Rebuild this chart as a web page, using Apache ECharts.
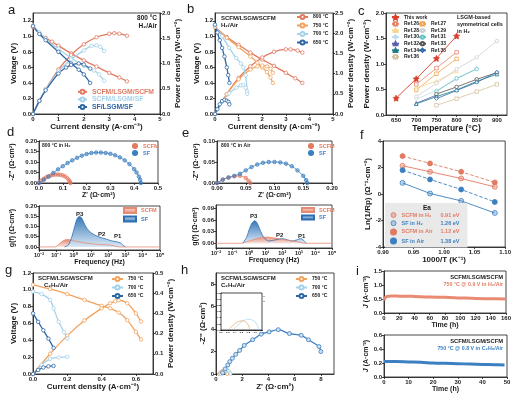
<!DOCTYPE html>
<html>
<head>
<meta charset="utf-8">
<script src="https://cdn.jsdelivr.net/npm/echarts@6/dist/echarts.min.js"></script>
<style>
html, body { margin: 0; padding: 0; background: #fff; }
#chart { width: 514px; height: 398px; }
</style>
</head>
<body>
<div id="chart"></div>
<script>
// ---------- data ----------
// a: 800 °C, H2/Air, [current, value]
const aVoltSCFM = [[0,1.12],[0.25,1.04],[0.5,0.98],[0.75,0.93],[1.0,0.88],[1.5,0.78],[2.0,0.69],[2.5,0.61],[3.0,0.53],[3.4,0.47],[3.7,0.42]];
const aPowSCFM = [[0,0],[0.25,0.26],[0.5,0.49],[1.0,0.88],[1.5,1.17],[2.0,1.38],[2.5,1.52],[3.0,1.59],[3.2,1.6],[3.4,1.59],[3.7,1.55]];
const aVoltMix = [[0,1.14],[0.25,1.05],[0.5,0.97],[1.0,0.84],[1.5,0.72],[2.0,0.62],[2.4,0.56],[2.6,0.51],[2.8,0.43]];
const aPowMix = [[0,0],[0.25,0.26],[0.5,0.49],[1.0,0.84],[1.5,1.08],[2.0,1.26],[2.3,1.35],[2.5,1.36],[2.65,1.33],[2.8,1.25]];
const aVoltSF = [[0,1.13],[0.25,1.03],[0.5,0.95],[1.0,0.80],[1.5,0.65],[1.8,0.57],[2.0,0.51],[2.25,0.40]];
const aPowSF = [[0,0],[0.25,0.26],[0.5,0.47],[1.0,0.8],[1.3,0.92],[1.5,0.97],[1.8,1.0],[2.0,0.98],[2.25,0.9]];

// b: SCFM/LSGM/SCFM in H2 at four temperatures
const bVolt800 = [[0,1.12],[0.5,0.99],[1.0,0.89],[1.5,0.79],[2.0,0.7],[2.5,0.62],[3.0,0.53],[3.4,0.46],[3.7,0.40]];
const bPow800 = [[0,0],[0.5,0.49],[1.0,0.89],[1.5,1.18],[2.0,1.4],[2.5,1.54],[3.0,1.6],[3.2,1.6],[3.5,1.57],[3.7,1.52]];
const bVolt750 = [[0,1.12],[0.5,0.98],[1.0,0.86],[1.5,0.74],[1.8,0.66],[2.0,0.6],[2.2,0.54],[2.35,0.47],[2.45,0.40]];
const bPow750 = [[0,0],[0.5,0.49],[1.0,0.86],[1.5,1.1],[1.8,1.18],[2.0,1.2],[2.2,1.18],[2.35,1.12],[2.45,1.02]];
const bVolt700 = [[0,1.14],[0.3,1.0],[0.6,0.85],[0.9,0.72],[1.1,0.65],[1.2,0.6],[1.3,0.5],[1.36,0.29]];
const bPow700 = [[0,0],[0.3,0.3],[0.6,0.51],[0.9,0.65],[1.1,0.71],[1.2,0.72],[1.3,0.65],[1.36,0.5]];
const bVolt650 = [[0,1.15],[0.1,1.05],[0.2,0.95],[0.3,0.85],[0.4,0.74],[0.5,0.6],[0.56,0.5],[0.61,0.4]];
const bPow650 = [[0,0],[0.1,0.12],[0.2,0.24],[0.3,0.32],[0.4,0.35],[0.5,0.33],[0.57,0.3],[0.61,0.24]];

// c: peak power vs temperature, [°C, W/cm2]
const cThis = [[650,0.33],[700,0.71],[750,1.11],[800,1.55]];
const cRef26 = [[700,0.60],[750,0.92],[800,1.23]];
const cRef27 = [[700,0.49],[750,0.81],[800,1.10]];
const cRef28 = [[700,0.53],[750,0.66],[800,0.86]];
const cRef29 = [[700,0.36],[750,0.62],[800,0.90],[850,1.13],[900,1.45]];
const cRef30 = [[700,0.31],[750,0.48],[800,0.70],[850,0.92]];
const cRef31 = [[750,0.46],[800,0.72],[850,0.90]];
const cRef32 = [[700,0.23],[750,0.39]];
const cRef33 = [[750,0.41],[800,0.55],[850,0.70],[900,0.83]];
const cRef34 = [[700,0.22],[750,0.36],[800,0.49],[850,0.66],[900,0.80]];
const cRef35 = [[750,0.32],[800,0.48],[850,0.64],[900,0.84]];
const cRef36 = [[750,0.19],[800,0.32],[850,0.46],[900,0.60]];

// d: 800 °C in H2, Nyquist [Z', -Z''] and DRT [Hz, g(f)]
const dNyqSCFM = [[0,0],[0.01,0.012],[0.02,0.02],[0.03,0.027],[0.04,0.032],[0.05,0.036],[0.06,0.039],[0.07,0.04],[0.08,0.04],[0.09,0.039],[0.1,0.036],[0.11,0.031],[0.12,0.022],[0.127,0.012],[0.13,0.004],[0.132,0]];
const dNyqSF = [[0,0],[0.02,0.015],[0.04,0.03],[0.06,0.048],[0.08,0.065],[0.1,0.08],[0.12,0.095],[0.14,0.108],[0.16,0.12],[0.18,0.13],[0.2,0.138],[0.22,0.143],[0.24,0.145],[0.26,0.145],[0.28,0.143],[0.3,0.139],[0.32,0.132],[0.34,0.122],[0.36,0.108],[0.38,0.09],[0.4,0.066],[0.41,0.05],[0.42,0.03],[0.425,0.015],[0.428,0]];
const dDrtSCFM = [[0.01,0],[0.08,0],[0.15,0.015],[0.25,0.03],[0.4,0.036],[0.7,0.034],[1,0.03],[3,0.022],[10,0.016],[30,0.012],[100,0.01],[200,0.006],[400,0],[100000,0]];
const dDrtSF = [[0.3,0],[0.5,0.01],[0.8,0.05],[1.2,0.105],[1.6,0.138],[2.2,0.15],[3,0.14],[4,0.117],[6,0.09],[10,0.07],[20,0.055],[40,0.045],[80,0.038],[150,0.03],[300,0.025],[500,0.02],[700,0.01],[1000,0]];

// e: 800 °C in air
const eNyqSCFM = [[0,0],[0.01,0.008],[0.02,0.013],[0.03,0.016],[0.04,0.017],[0.05,0.012],[0.055,0.005],[0.058,0]];
const eNyqSF = [[0,0],[0.01,0.008],[0.02,0.013],[0.03,0.017],[0.04,0.022],[0.05,0.03],[0.06,0.038],[0.07,0.044],[0.08,0.048],[0.09,0.05],[0.1,0.05],[0.11,0.049],[0.12,0.046],[0.13,0.04],[0.14,0.03],[0.15,0.017],[0.155,0.007],[0.157,0]];
const eDrtSCFM = [[0.01,0],[0.3,0],[1,0.006],[3,0.012],[10,0.016],[30,0.014],[100,0.01],[300,0.007],[800,0.004],[1600,0.001],[2000,0],[100000,0]];
const eDrtSF = [[0.4,0],[0.7,0.015],[1.0,0.035],[1.5,0.052],[2.2,0.058],[3.2,0.05],[5,0.03],[8,0.014],[15,0.006],[40,0.009],[100,0.012],[200,0.009],[400,0.006],[800,0.009],[1300,0.012],[2000,0.007],[2800,0]];

// f: Arrhenius plot, [1000/T, ln(1/Rp)]
const fSCFMH2 = [[0.932,2.13],[0.977,1.68],[1.028,1.17],[1.083,0.54]];
const fSFH2 = [[0.932,0.84],[0.977,0.04],[1.028,-0.52],[1.083,-1.43]];
const fSCFMAir = [[0.932,2.86],[0.977,2.31],[1.028,1.68],[1.083,0.87]];
const fSFAir = [[0.932,1.80],[0.977,1.10],[1.028,0.34],[1.083,-0.6]];
const fNames = ['SCFM in H₂', 'SF in H₂', 'SCFM in Air', 'SF in Air'];
const fEa = ['0.91 eV', '1.26 eV', '1.12 eV', '1.38 eV'];

// g: C2H6/Air I-V-P
const gVolt750 = [[0,1.06],[0.1,1.01],[0.2,0.95],[0.3,0.88],[0.4,0.81],[0.45,0.78],[0.5,0.73],[0.55,0.64],[0.6,0.50],[0.63,0.41]];
const gPow750 = [[0,0],[0.1,0.10],[0.2,0.19],[0.3,0.265],[0.4,0.325],[0.45,0.35],[0.48,0.36],[0.5,0.365],[0.55,0.35],[0.6,0.30],[0.63,0.26]];
const gVolt700 = [[0,0.98],[0.05,0.95],[0.1,0.88],[0.12,0.78],[0.15,0.62],[0.18,0.5],[0.2,0.42]];
const gPow700 = [[0,0],[0.05,0.045],[0.1,0.075],[0.15,0.082],[0.2,0.085]];
const gVolt650 = [[0,0.72],[0.03,0.62],[0.06,0.52],[0.09,0.42],[0.12,0.31]];
const gPow650 = [[0,0],[0.03,0.02],[0.06,0.032],[0.09,0.038],[0.12,0.04]];

// h: C2H6/Air Nyquist
const h750 = [[0.22,0],[0.3,0.1],[0.4,0.2],[0.5,0.27],[0.6,0.3],[0.7,0.28],[0.78,0.2],[0.83,0.08],[0.85,0]];
const h700 = [[0.35,0],[0.45,0.12],[0.55,0.22],[0.65,0.3],[0.78,0.35],[0.9,0.33],[1.0,0.26],[1.07,0.14],[1.1,0]];
const h650 = [[0.5,0.1],[0.7,0.45],[0.9,0.8],[1.05,1.1],[1.25,1.4],[1.5,1.75],[1.8,2.1],[2.15,2.55],[2.8,3.05],[3.45,3.55],[4.05,3.75],[4.75,3.95],[5.6,3.6],[6.5,3.45],[7.05,3.05],[7.85,2.45],[8.0,2.0]];

// i: stability, [h, A/cm2]
const iH2 = [[0,0.45],[1,0.52],[3,0.58],[6,0.6],[10,0.61],[15,0.61],[20,0.6],[30,0.6],[40,0.59],[60,0.57],[80,0.56],[100,0.54],[120,0.52],[140,0.51],[160,0.5]];
const iC2H6 = [[0,0.22],[5,0.22],[10,0.215],[15,0.21],[20,0.2],[25,0.195],[30,0.19],[35,0.185],[40,0.18],[45,0.175],[49,0.17]];

// ---------- styles ----------
const FONT = '"Liberation Sans", Arial, sans-serif';
const INK = '#1a1a1a';
const RED = '#e27a62', LBLUE = '#a6d2ea', DBLUE = '#2e67a4', ORANGE = '#f2a35e', BLUE = '#3c7fc0';
const sup = { '-': '⁻', '0': '⁰', '1': '¹', '2': '²', '3': '³', '4': '⁴', '5': '⁵' };
const logFmt = v => '10' + String(Math.round(Math.log10(v))).split('').map(c => sup[c]).join('');

function ax(g, min, max, o) {
  o = o || {};
  const a = {
    type: o.log ? 'log' : 'value', gridIndex: g, min: min, max: max,
    position: o.pos, name: o.name || '', nameLocation: 'middle', nameGap: o.gap || 10,
    axisLine: { show: true, onZero: false, lineStyle: { color: INK, width: 0.8 } },
    axisTick: { show: true, length: o.tl || 2, lineStyle: { color: INK, width: 0.8 } },
    axisLabel: { fontSize: o.fs || 6, fontWeight: 'bold', color: INK, fontFamily: FONT, margin: o.margin || 2,
      formatter: o.fmt || (v => v.toFixed(o.dec || 0)) },
    splitLine: { show: false },
    nameTextStyle: { fontSize: o.nfs || 8, fontWeight: 'bold', color: INK, fontFamily: FONT,
      rich: { it: { fontStyle: 'italic', fontSize: o.nfs || 8, fontWeight: 'bold', fontFamily: FONT } } }
  };
  if (o.rot) a.nameRotate = o.rot;
  if (o.ticks) { a.axisLabel.customValues = o.ticks; a.axisTick.customValues = o.ticks; }
  if (o.step) a.interval = o.step;
  if (o.log) a.logBase = 10;
  return a;
}

function ln(name, data, xi, yi, color, o) {
  o = o || {};
  return {
    type: 'line', name: name, data: data, xAxisIndex: xi, yAxisIndex: yi,
    smooth: o.smooth === undefined ? 0.3 : o.smooth,
    symbol: o.symbol || 'circle', symbolSize: o.size || 3.5, showSymbol: o.noSym ? false : true,
    lineStyle: { color: color, width: o.lw || 1.3, type: o.dash ? 'dashed' : 'solid' },
    itemStyle: { color: o.fill || '#fff', borderColor: color, borderWidth: 0.8 },
    areaStyle: o.area, z: o.z || 2
  };
}

function grad(top, bottom) {
  return new echarts.graphic.LinearGradient(0, 0, 0, 1, [{ offset: 0, color: top }, { offset: 1, color: bottom }]);
}

function txt(x, y, s, fs, o) {
  o = o || {};
  const t = { type: 'text', top: y, z: 50,
    style: { text: s, fontSize: fs, fontWeight: o.fw || 'bold', fill: o.c || INK, fontFamily: FONT } };
  if (o.right) t.right = x; else t.left = x;
  return t;
}

const legendText = (fs, extra) => Object.assign({ fontSize: fs, fontWeight: 'bold', color: INK, fontFamily: FONT }, extra || {});

// ---------- layout ----------
const grids = [
  [33, 13, 127, 101],   // a
  [215, 13, 118, 101],  // b
  [386, 13, 121, 102],  // c
  [39, 141, 119, 42],   // d top
  [39, 206, 121, 44],   // d bottom
  [217, 141, 115, 42],  // e top
  [216, 205, 116, 43],  // e bottom
  [383, 141, 124, 106], // f
  [33, 273, 120, 101],  // g
  [216, 273, 118, 101], // h
  [221, 293, 41, 37],   // h inset
  [384, 271, 123, 42],  // i top
  [384, 335, 123, 42]   // i bottom
].map((r, k) => ({ left: r[0], top: r[1], width: r[2], height: r[3], show: true,
  borderColor: INK, borderWidth: 0.8, backgroundColor: k === 10 ? '#fff' : 'transparent', z: k === 10 ? 10 : 0 }));

const xAxes = [
  ax(0, 0, 5, { step: 1, name: 'Current density (A·cm⁻²)', gap: 9 }),
  ax(1, 0, 5, { step: 1, name: 'Current density (A·cm⁻²)', gap: 9 }),
  ax(2, 625, 925, { ticks: [650, 700, 750, 800, 850, 900], name: 'Temperature (°C)', gap: 9, nfs: 8.5 }),
  ax(3, 0, 0.5, { step: 0.1, dec: 1, name: "Z' (Ω·cm²)", gap: 7, nfs: 7 }),
  ax(4, 0.01, 100000, { log: true, fmt: logFmt, name: 'Frequency (Hz)', gap: 6, nfs: 7, fs: 5.5 }),
  ax(5, 0, 0.2, { step: 0.05, dec: 2, name: "Z' (Ω·cm²)", gap: 8, nfs: 7 }),
  ax(6, 0.01, 100000, { log: true, fmt: logFmt, name: 'Frequency (Hz)', gap: 6, nfs: 7, fs: 5.5 }),
  ax(7, 0.9, 1.1, { step: 0.05, dec: 2, name: '1000/T (K⁻¹)', gap: 9 }),
  ax(8, 0, 0.7, { ticks: [0, 0.2, 0.4, 0.6], dec: 1, name: 'Current density (A·cm⁻²)', gap: 9 }),
  ax(9, 0, 9, { ticks: [0, 2, 4, 6, 8], name: "Z' (Ω·cm²)", gap: 9 }),
  ax(10, 0, 1.2, { step: 0.2, dec: 1, fs: 2.5, tl: 1, margin: 1 }),
  ax(11, 0, 160, { step: 20, name: 'Time (h)', gap: 8, nfs: 7 }),
  ax(12, 0, 50, { step: 10, name: 'Time (h)', gap: 8, nfs: 7 })
];

const yAxes = [
  ax(0, 0, 1.3, { ticks: [0, 0.2, 0.4, 0.6, 0.8, 1.0, 1.2], dec: 1, name: 'Voltage (V)', gap: 15, rot: 90 }),
  ax(0, 0, 2.0, { step: 0.5, dec: 1, pos: 'right', name: 'Power density (W·cm⁻²)', gap: 13, rot: 90 }),
  ax(1, 0, 1.3, { ticks: [0, 0.2, 0.4, 0.6, 0.8, 1.0, 1.2], dec: 1, name: 'Voltage (V)', gap: 14, rot: 90 }),
  ax(1, 0, 2.5, { step: 0.5, dec: 1, pos: 'right', name: 'Power density (W·cm⁻²)', gap: 13, rot: 90 }),
  ax(2, 0, 2.0, { step: 0.5, dec: 1, name: 'Power density (W·cm⁻²)', gap: 15, rot: 90 }),
  ax(3, 0, 0.2, { step: 0.05, dec: 2, name: "-Z'' (Ω·cm²)", gap: 23, nfs: 7, rot: 90 }),
  ax(4, -0.015, 0.2, { ticks: [0, 0.05, 0.1, 0.15, 0.2], dec: 2, name: 'g(f) (Ω·cm²)', gap: 23, nfs: 7, rot: 90 }),
  ax(5, 0, 0.1, { step: 0.05, dec: 2, name: "-Z'' (Ω·cm²)", gap: 15, nfs: 7, rot: 90 }),
  ax(6, -0.012, 0.098, { ticks: [0, 0.03, 0.06, 0.09], dec: 2, name: 'g(f) (Ω·cm²)', gap: 15, nfs: 7, rot: 90 }),
  ax(7, -4, 4, { step: 2, name: 'Ln(1/Rp) (Ω⁻¹·cm⁻²)', gap: 10, rot: 90 }),
  ax(8, 0, 1.2, { step: 0.2, dec: 1, name: 'Voltage (V)', gap: 15, rot: 90 }),
  ax(8, 0, 0.5, { step: 0.1, dec: 1, pos: 'right', name: 'Power density (W·cm⁻²)', gap: 13, rot: 90 }),
  ax(9, 0, 9, { ticks: [0, 2, 4, 6, 8], name: "-Z'' (Ω·cm²)", gap: 8, rot: 90 }),
  ax(10, 0, 1.2, { step: 0.2, dec: 1, fs: 2.5, tl: 1, margin: 1 }),
  ax(11, 0, 1.5, { step: 0.5, dec: 1, name: '{it|J} (A·cm⁻²)', gap: 13, nfs: 7, rot: 90 }),
  ax(12, 0, 0.6, { step: 0.2, dec: 1, name: '{it|J} (A·cm⁻²)', gap: 13, nfs: 7, rot: 90 })
];

// ---------- series ----------
const series = [];
// a
series.push(ln('SCFM/LSGM/SCFM', aVoltSCFM, 0, 0, RED));
series.push(ln('SCFM/LSGM/SCFM', aPowSCFM, 0, 1, RED));
series.push(ln('SCFM/LSGM/SF', aVoltMix, 0, 0, LBLUE));
series.push(ln('SCFM/LSGM/SF', aPowMix, 0, 1, LBLUE));
series.push(ln('SF/LSGM/SF', aVoltSF, 0, 0, DBLUE));
series.push(ln('SF/LSGM/SF', aPowSF, 0, 1, DBLUE));
// b
[['800 °C', bVolt800, bPow800, RED], ['750 °C', bVolt750, bPow750, ORANGE],
 ['700 °C', bVolt700, bPow700, LBLUE], ['650 °C', bVolt650, bPow650, DBLUE]].forEach(s => {
  series.push(ln(s[0], s[1], 1, 2, s[3]));
  series.push(ln(s[0], s[2], 1, 3, s[3]));
});
// c
const cRefs = [
  ['Ref.26', cRef26, '#e8836b', 'rect'], ['Ref.27', cRef27, '#f0a54f', 'rect'],
  ['Ref.28', cRef28, '#f5d68c', 'triangle'], ['Ref.29', cRef29, '#cfcfcf', 'circle'],
  ['Ref.30', cRef30, '#c2dcef', 'diamond'], ['Ref.31', cRef31, '#5fc4c8', 'circle'],
  ['Ref.32', cRef32, '#5a5fb4', 'triangle'], ['Ref.33', cRef33, '#555555', 'circle'],
  ['Ref.34', cRef34, '#1f7c86', 'triangle'], ['Ref.35', cRef35, '#2f6fae', 'diamond'],
  ['Ref.36', cRef36, '#d4c3a3', 'rect']
];
cRefs.forEach(r => series.push(ln(r[0], r[1], 2, 4, r[2], { smooth: false, symbol: r[3], size: 3.5, lw: 0.8 })));
series.push(ln('This work', cThis, 2, 4, '#d8402c', { smooth: false, symbol: 'path://M0,-10L2.9,-4L9.5,-3.1L4.7,1.5L5.9,8.1L0,5L-5.9,8.1L-4.7,1.5L-9.5,-3.1L-2.9,-4Z', size: 6, lw: 0.9, fill: '#d8402c', z: 5 }));
// d
series.push(ln('SCFM', dNyqSCFM, 3, 5, RED, { fill: 'rgba(226,122,98,0.45)', size: 3.5, lw: 0.8 }));
series.push(ln('SF', dNyqSF, 3, 5, BLUE, { fill: 'rgba(60,127,192,0.45)', size: 3.5, lw: 0.8 }));
series.push(ln('SCFM ', dDrtSCFM, 4, 6, '#e58b74', { noSym: true, lw: 0.8, area: { color: grad('#e8836b', '#fbe3dc'), opacity: 0.95 } }));
series.push(ln('SF ', dDrtSF, 4, 6, '#2d6fb3', { noSym: true, lw: 0.8, area: { color: grad('#2d6fb3', '#d8e8f6'), opacity: 0.95 } }));
// e
series.push(ln('SCFM', eNyqSCFM, 5, 7, RED, { fill: 'rgba(226,122,98,0.45)', size: 3.5, lw: 0.8 }));
series.push(ln('SF', eNyqSF, 5, 7, BLUE, { fill: 'rgba(60,127,192,0.45)', size: 3.5, lw: 0.8 }));
series.push(ln('SF ', eDrtSF, 6, 8, '#2d6fb3', { noSym: true, lw: 0.8, area: { color: grad('#2d6fb3', '#d8e8f6'), opacity: 0.95 } }));
series.push(ln('SCFM ', eDrtSCFM, 6, 8, '#e58b74', { noSym: true, lw: 0.8, area: { color: grad('#e8836b', '#fbe3dc'), opacity: 0.85 } }));
// f
series.push(ln(fNames[0], fSCFMH2, 7, 9, RED, { smooth: false, fill: 'rgba(226,122,98,0.4)', size: 5, lw: 0.9 }));
series.push(ln(fNames[1], fSFH2, 7, 9, BLUE, { smooth: false, fill: 'rgba(60,127,192,0.3)', size: 5, lw: 0.9 }));
series.push(ln(fNames[2], fSCFMAir, 7, 9, RED, { smooth: false, fill: RED, size: 5, lw: 0.9, dash: true }));
series.push(ln(fNames[3], fSFAir, 7, 9, BLUE, { smooth: false, fill: BLUE, size: 5, lw: 0.9, dash: true }));
// g
[['750 °C', gVolt750, gPow750, ORANGE], ['700 °C', gVolt700, gPow700, LBLUE], ['650 °C', gVolt650, gPow650, DBLUE]].forEach(s => {
  series.push(ln(s[0], s[1], 8, 10, s[3]));
  series.push(ln(s[0], s[2], 8, 11, s[3]));
});
// h and inset
series.push(ln('750 °C', h750, 9, 12, ORANGE, { size: 3 }));
series.push(ln('700 °C', h700, 9, 12, LBLUE, { size: 3 }));
series.push(ln('650 °C', h650, 9, 12, BLUE, { size: 4, fill: '#cfe0f0' }));
series.push(ln('750 °C', h750, 10, 13, ORANGE, { noSym: true, lw: 0.7, z: 12 }));
series.push(ln('700 °C', h700, 10, 13, LBLUE, { noSym: true, lw: 0.7, z: 12 }));
// i
series.push(ln('H2 test', iH2, 11, 14, '#e98a72', { noSym: true, lw: 3, smooth: 0.4 }));
series.push(ln('C2H6 test', iC2H6, 12, 15, '#3c80c2', { noSym: true, lw: 3, smooth: 0.4 }));

// ---------- legends ----------
const legBase = { orient: 'vertical', selectedMode: false, padding: 0 };
const legends = [
  Object.assign({}, legBase, { left: 77, top: 88, itemWidth: 9, itemHeight: 5, itemGap: 0,
    textStyle: legendText(6.8, { lineHeight: 7.6 }),
    data: [{ name: 'SCFM/LSGM/SCFM', textStyle: { color: RED } }, { name: 'SCFM/LSGM/SF', textStyle: { color: LBLUE } }, { name: 'SF/LSGM/SF', textStyle: { color: DBLUE } }] }),
  Object.assign({}, legBase, { left: 296, top: 14, itemWidth: 11, itemHeight: 5, itemGap: 2.5,
    textStyle: legendText(5), data: ['800 °C', '750 °C', '700 °C', '650 °C'] }),
  Object.assign({}, legBase, { left: 391, top: 14, itemWidth: 7, itemHeight: 5, itemGap: 0,
    textStyle: legendText(5, { lineHeight: 6.6 }), data: ['This work'] }),
  Object.assign({}, legBase, { left: 391, top: 20.6, itemWidth: 7, itemHeight: 4, itemGap: 0,
    textStyle: legendText(5, { lineHeight: 6.6 }), data: ['Ref.26', 'Ref.28', 'Ref.30', 'Ref.32', 'Ref.34', 'Ref.36'] }),
  Object.assign({}, legBase, { left: 418, top: 20.6, itemWidth: 7, itemHeight: 4, itemGap: 0,
    textStyle: legendText(5, { lineHeight: 6.6 }), data: ['Ref.27', 'Ref.29', 'Ref.31', 'Ref.33', 'Ref.35'] }),
  Object.assign({}, legBase, { left: 131, top: 143, itemWidth: 6, itemHeight: 5, itemGap: 1,
    textStyle: legendText(5.5), data: [{ name: 'SCFM', textStyle: { color: RED } }, { name: 'SF', textStyle: { color: BLUE } }] }),
  Object.assign({}, legBase, { left: 123, top: 207, itemWidth: 12, itemHeight: 5, itemGap: 1.5, icon: 'rect',
    textStyle: legendText(5.5),
    data: [{ name: 'SCFM ', textStyle: { color: RED }, itemStyle: { color: grad('#fbe3dc', '#e8836b') } },
           { name: 'SF ', textStyle: { color: BLUE }, itemStyle: { color: grad('#d8e8f6', '#2d6fb3') } }] }),
  Object.assign({}, legBase, { left: 307, top: 143, itemWidth: 6, itemHeight: 5, itemGap: 1,
    textStyle: legendText(5.5), data: [{ name: 'SCFM', textStyle: { color: RED } }, { name: 'SF', textStyle: { color: BLUE } }] }),
  Object.assign({}, legBase, { left: 301, top: 207, itemWidth: 12, itemHeight: 4, itemGap: 1.5, icon: 'rect',
    textStyle: legendText(5.5),
    data: [{ name: 'SCFM ', textStyle: { color: RED }, itemStyle: { color: grad('#fbe3dc', '#e8836b') } },
           { name: 'SF ', textStyle: { color: BLUE }, itemStyle: { color: grad('#d8e8f6', '#2d6fb3') } }] }),
  Object.assign({}, legBase, { left: 385, top: 203, itemWidth: 6, itemHeight: 5, itemGap: 2.2, icon: 'circle',
    backgroundColor: '#e9e9e9', padding: [9, 8, 3, 5],
    formatter: name => '{n|' + name + '}{v|' + fEa[fNames.indexOf(name)] + '}',
    textStyle: legendText(5.5, { rich: { n: { width: 39, fontSize: 5.5, fontWeight: 'bold', fontFamily: FONT }, v: { fontSize: 5.5, fontWeight: 'bold', fontFamily: FONT } } }),
    data: [
      { name: fNames[0], textStyle: { color: RED }, itemStyle: { color: 'rgba(226,122,98,0.45)', borderColor: RED, borderWidth: 0.8 } },
      { name: fNames[1], textStyle: { color: BLUE }, itemStyle: { color: 'rgba(60,127,192,0.3)', borderColor: BLUE, borderWidth: 0.8 } },
      { name: fNames[2], textStyle: { color: RED }, itemStyle: { color: RED } },
      { name: fNames[3], textStyle: { color: BLUE }, itemStyle: { color: BLUE } }] }),
  Object.assign({}, legBase, { left: 111, top: 276, itemWidth: 11, itemHeight: 5, itemGap: 2.5,
    textStyle: legendText(5), data: ['750 °C', '700 °C', '650 °C'] }),
  Object.assign({}, legBase, { left: 295, top: 276, itemWidth: 11, itemHeight: 5, itemGap: 2.5,
    textStyle: legendText(5), data: ['750 °C', '700 °C', '650 °C'] }),
  Object.assign({}, legBase, { left: 248, top: 295, itemWidth: 4, itemHeight: 2, itemGap: 0.5,
    textStyle: legendText(2.2), data: ['750 °C', '700 °C'] })
];

// ---------- texts ----------
const graphics = [
  txt(8, 4, 'a', 13, { fw: 'normal' }), txt(187, 3, 'b', 13, { fw: 'normal' }), txt(358, 5, 'c', 13, { fw: 'normal' }),
  txt(7, 126, 'd', 13, { fw: 'normal' }), txt(182, 127, 'e', 13, { fw: 'normal' }), txt(360, 129, 'f', 13, { fw: 'normal' }),
  txt(5, 264, 'g', 13, { fw: 'normal' }), txt(181, 264, 'h', 13, { fw: 'normal' }), txt(356, 265, 'i', 13, { fw: 'normal' }),
  txt(357, 15, '800 °C', 6.5, { right: true }), txt(357, 22.5, 'H₂/Air', 6.5, { right: true }),
  txt(221, 15, 'SCFM/LSGM/SCFM', 6), txt(221, 22.5, 'H₂/Air', 6),
  txt(457, 14, 'LSGM-based', 5.5), txt(457, 21, 'symmetrical cells', 5.5), txt(457, 28, 'in H₂', 5.5),
  txt(42, 143, '800 °C in H₂', 5),
  txt(76, 211, 'P3', 6), txt(98, 231, 'P2', 6), txt(114, 233, 'P1', 6),
  txt(221, 143, '800 °C in Air', 5),
  txt(250, 213, 'P3', 6), txt(276, 232, 'P2', 6), txt(298, 233, 'P1', 6),
  txt(423, 205, 'Ea', 6.5),
  txt(38, 275, 'SCFM/LSGM/SCFM', 6), txt(44, 282.5, 'C₂H₆/Air', 6),
  txt(221, 275, 'SCFM/LSGM/SCFM', 6), txt(221, 282.5, 'C₂H₆/Air', 6),
  txt(11, 274, 'SCFM/LSGM/SCFM', 5.8, { right: true }), txt(11, 282, '750 °C @ 0.9 V in H₂/Air', 5.3, { right: true, c: RED }),
  txt(11, 338, 'SCFM/LSGM/SCFM', 5.8, { right: true }), txt(11, 346, '750 °C @ 0.8 V in C₂H₆/Air', 5.3, { right: true, c: BLUE })
];

const chart = echarts.init(document.getElementById('chart'));
chart.setOption({
  animation: false,
  backgroundColor: '#fff',
  grid: grids,
  xAxis: xAxes,
  yAxis: yAxes,
  legend: legends,
  series: series,
  graphic: graphics
});
</script>
</body>
</html>
